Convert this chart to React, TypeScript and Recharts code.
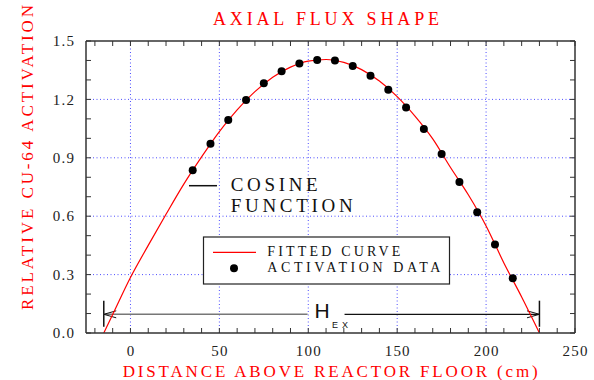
import { ComposedChart, Line, Scatter, XAxis, YAxis, ReferenceLine } from 'recharts';

// fitted cosine curve
const curveX = [-15, -10, 0, 10, 20, 30, 40, 50, 60, 70, 80, 90, 100, 110, 120, 130, 140, 150, 160, 170, 180, 190, 200, 210, 220, 230];
const curveY = [0, 0.095, 0.285, 0.45, 0.61, 0.765, 0.905, 1.035, 1.146, 1.24, 1.314, 1.366, 1.397, 1.405, 1.39, 1.353, 1.294, 1.214, 1.114, 0.997, 0.85, 0.71, 0.55, 0.36, 0.185, 0];

// activation measurements
const pointX = [35, 45, 55, 65, 75, 85, 95, 105, 115, 125, 135, 145, 155, 165, 175, 185, 195, 205, 215];
const pointY = [0.836, 0.972, 1.094, 1.197, 1.283, 1.344, 1.385, 1.402, 1.4, 1.372, 1.322, 1.25, 1.159, 1.048, 0.92, 0.776, 0.62, 0.454, 0.281];

const xTicks = [-20, -10, 0, 10, 20, 30, 40, 50, 60, 70, 80, 90, 100, 110, 120, 130, 140, 150, 160, 170, 180, 190, 200, 210, 220, 230, 240, 250];
const yTicks = [0, 0.1, 0.2, 0.3, 0.4, 0.5, 0.6, 0.7, 0.8, 0.9, 1.0, 1.1, 1.2, 1.3, 1.4, 1.5];
const gridX = [0, 50, 100, 150, 200];
const gridY = [0.3, 0.6, 0.9, 1.2];

// H_EX span (extrapolated height), in data units
const hexStart = -15;
const hexEnd = 230;
const hexY = 0.096;
const hexGapFrom = 99.6;
const hexGapTo = 120.4;

const curve = curveX.map((x, i) => ({ x, y: curveY[i] }));
const points = pointX.map((x, i) => ({ x, y: pointY[i] }));

const M = 12; // tick margin
const TL = 5; // inward tick length
const axisColor = '#333';
const SERIF = 'Liberation Serif';
const serif = { fontFamily: SERIF };
const sans = { fontFamily: 'Liberation Sans' };
const tickStyle = { fontFamily: SERIF, letterSpacing: '1.2px' };

function BottomTick(props: any) {
    const { x, y, payload } = props;
    const v = payload.value;
    const lab = v >= 0 && v % 50 === 0;
    return (
        <g>
            <line x1={x} x2={x} y1={y - M} y2={y - M - TL} stroke={axisColor} strokeWidth={1} />
            {lab && (
                <text x={x + 0.6} y={y} dy="0.71em" textAnchor="middle" fontSize={15} fontFamily={SERIF} style={tickStyle} fill="#222">
                    {v}
                </text>
            )}
        </g>
    );
}

function LeftTick(props: any) {
    const { x, y, payload } = props;
    const v = payload.value;
    const lab = Math.round(v * 10) % 3 === 0;
    return (
        <g>
            <line x1={x + M} x2={x + M + TL} y1={y} y2={y} stroke={axisColor} strokeWidth={1} />
            {lab && (
                <text x={x + 1.2} y={y} dy="0.35em" textAnchor="end" fontSize={15} fontFamily={SERIF} style={tickStyle} fill="#222">
                    {v.toFixed(1)}
                </text>
            )}
        </g>
    );
}

function TopTick(props: any) {
    const { x, y } = props;
    return <line x1={x} x2={x} y1={y} y2={y + TL} stroke={axisColor} strokeWidth={1} />;
}

function RightTick(props: any) {
    const { x, y } = props;
    return <line x1={x} x2={x - TL} y1={y} y2={y} stroke={axisColor} strokeWidth={1} />;
}

export default function App() {
    return (
        <div style={{ position: 'absolute', left: 0, top: 0, width: 594, height: 380, background: '#fff' }}>
            <ComposedChart width={594} height={380} margin={{ top: 0, right: 0, bottom: 0, left: 0 }}>
                <XAxis
                    xAxisId={0}
                    dataKey="x"
                    type="number"
                    domain={[-25, 250]}
                    allowDataOverflow
                    ticks={xTicks}
                    interval={0}
                    height={47}
                    tickSize={0}
                    tickMargin={M}
                    tickLine={false}
                    axisLine={{ stroke: axisColor, strokeWidth: 1.5 }}
                    tick={BottomTick}
                />
                <XAxis
                    xAxisId="top"
                    dataKey="x"
                    type="number"
                    orientation="top"
                    domain={[-25, 250]}
                    allowDataOverflow
                    ticks={xTicks}
                    interval={0}
                    height={41}
                    tickSize={0}
                    tickMargin={0}
                    tickLine={false}
                    axisLine={{ stroke: axisColor, strokeWidth: 1.5 }}
                    tick={TopTick}
                />
                <YAxis
                    yAxisId={0}
                    type="number"
                    domain={[0, 1.5]}
                    allowDataOverflow
                    ticks={yTicks}
                    interval={0}
                    width={86}
                    tickSize={0}
                    tickMargin={M}
                    tickLine={false}
                    axisLine={{ stroke: axisColor, strokeWidth: 1.5 }}
                    tick={LeftTick}
                />
                <YAxis
                    yAxisId="right"
                    type="number"
                    orientation="right"
                    domain={[0, 1.5]}
                    allowDataOverflow
                    ticks={yTicks}
                    interval={0}
                    width={19}
                    tickSize={0}
                    tickMargin={0}
                    tickLine={false}
                    axisLine={{ stroke: axisColor, strokeWidth: 1.5 }}
                    tick={RightTick}
                />

                {gridX.map((v) => (
                    <ReferenceLine key={'gx' + v} x={v} stroke="#4d4dff" strokeDasharray="1 2.5" strokeWidth={1} />
                ))}
                {gridY.map((v) => (
                    <ReferenceLine key={'gy' + v} y={v} stroke="#4d4dff" strokeDasharray="1 2.5" strokeWidth={1} />
                ))}

                {/* H_EX dimension arrow */}
                <ReferenceLine segment={[{ x: hexStart, y: 0.032 }, { x: hexStart, y: 0.166 }]} stroke="#111" strokeWidth={1.5} />
                <ReferenceLine segment={[{ x: hexEnd, y: 0.032 }, { x: hexEnd, y: 0.166 }]} stroke="#111" strokeWidth={1.5} />
                <ReferenceLine segment={[{ x: hexStart, y: hexY }, { x: hexGapFrom, y: hexY }]} stroke="#777" strokeWidth={1.5} />
                <ReferenceLine segment={[{ x: hexGapTo, y: hexY }, { x: hexEnd, y: hexY }]} stroke="#111" strokeWidth={1.2} />
                <ReferenceLine segment={[{ x: hexStart, y: hexY }, { x: hexStart + 7, y: hexY + 0.018 }]} stroke="#111" strokeWidth={1} />
                <ReferenceLine segment={[{ x: hexStart, y: hexY }, { x: hexStart + 7, y: hexY - 0.018 }]} stroke="#111" strokeWidth={1} />
                <ReferenceLine segment={[{ x: hexEnd, y: hexY }, { x: hexEnd - 7, y: hexY + 0.018 }]} stroke="#111" strokeWidth={1} />
                <ReferenceLine segment={[{ x: hexEnd, y: hexY }, { x: hexEnd - 7, y: hexY - 0.018 }]} stroke="#111" strokeWidth={1} />

                <Line
                    data={curve}
                    dataKey="y"
                    type="monotone"
                    stroke="#ff0000"
                    strokeWidth={1.2}
                    dot={false}
                    activeDot={false}
                    isAnimationActive={false}
                />
                <Scatter
                    data={points}
                    dataKey="y"
                    fill="#000"
                    isAnimationActive={false}
                    shape={(p: any) => <circle cx={p.cx} cy={p.cy} r={4} fill="#000" />}
                />
            </ComposedChart>

            <svg width={594} height={380} style={{ position: 'absolute', left: 0, top: 0, pointerEvents: 'none' }}>
                <text x={213} y={25} textLength={226} fontSize={18} fontFamily={SERIF} style={serif} fill="#ff0000">
                    AXIAL FLUX SHAPE
                </text>
                <text
                    transform="translate(33.3,157.5) rotate(-90)"
                    textAnchor="middle"
                    textLength={305}
                    fontSize={17}
                    fontFamily={SERIF}
                    style={serif}
                    fill="#ff0000"
                >
                    RELATIVE CU-64 ACTIVATION
                </text>
                <text x={122.7} y={377} textLength={415} fontSize={17} fontFamily={SERIF} style={serif} fill="#ff0000">
                    DISTANCE ABOVE REACTOR FLOOR (cm)
                </text>

                {/* cosine annotation */}
                <line x1={189} x2={217} y1={185.7} y2={185.7} stroke="#111" strokeWidth={1.5} />
                <text x={230.7} y={190.7} textLength={87} fontSize={19} fontFamily={SERIF} style={serif} fill="#111">
                    COSINE
                </text>
                <text x={230.7} y={211.7} textLength={122} fontSize={19} fontFamily={SERIF} style={serif} fill="#111">
                    FUNCTION
                </text>

                {/* legend */}
                <rect x={203.5} y={237} width={246} height={47} fill="#fff" stroke="#222" strokeWidth={1.2} />
                <line x1={213} x2={256} y1={252.3} y2={252.3} stroke="#ff0000" strokeWidth={1.2} />
                <circle cx={234} cy={268.3} r={4} fill="#000" />
                <text x={267.3} y={255.5} textLength={133} fontSize={14} fontFamily={SERIF} style={serif} fill="#111">
                    FITTED CURVE
                </text>
                <text x={267.3} y={272} textLength={173} fontSize={14} fontFamily={SERIF} style={serif} fill="#111">
                    ACTIVATION DATA
                </text>

                {/* H_EX label */}
                <text x={314.5} y={317.5} fontSize={21} style={sans} fill="#111">
                    H
                </text>
                <text x={332} y={327.5} textLength={16} fontSize={9} style={sans} fill="#111">
                    EX
                </text>
            </svg>
        </div>
    );
}
